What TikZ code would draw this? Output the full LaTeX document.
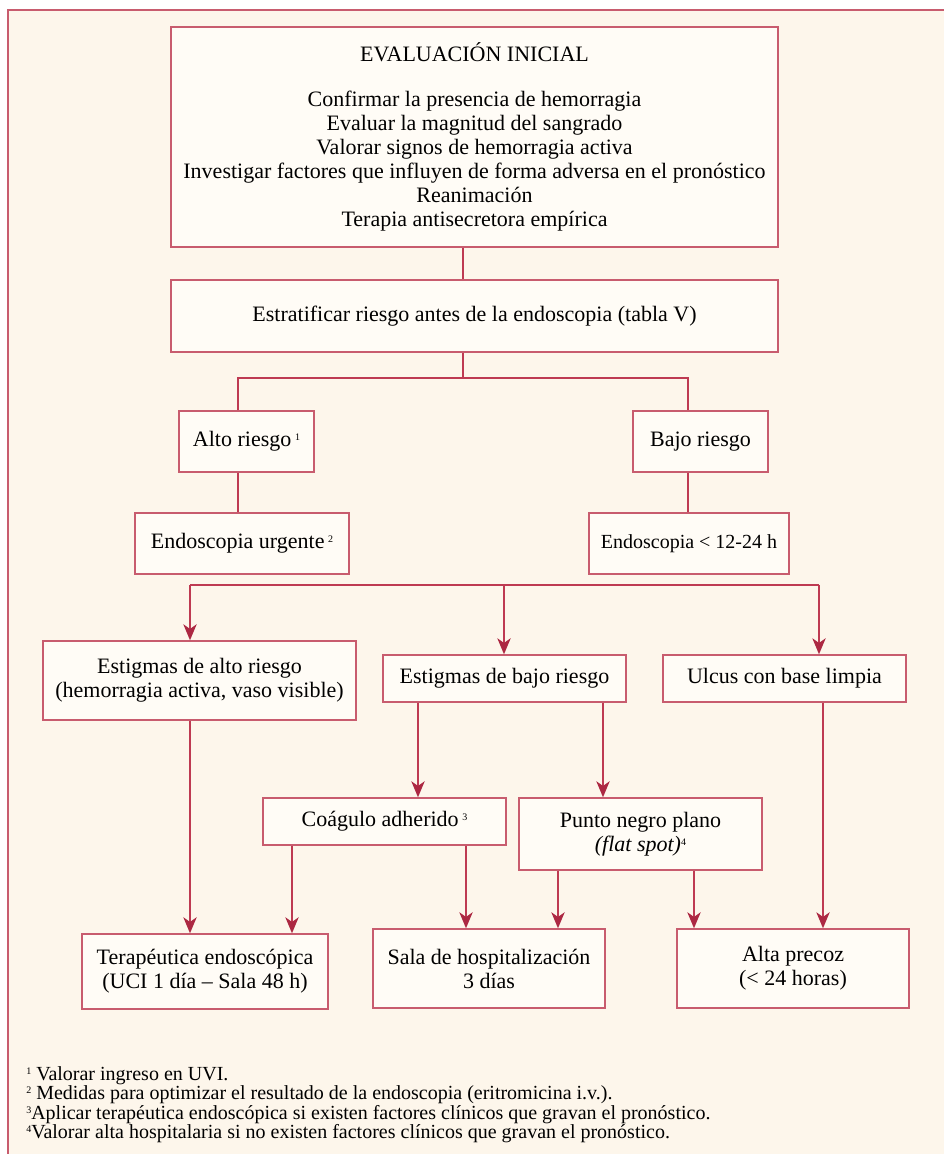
\documentclass[tikz,border=0pt]{standalone}
\usepackage{fontspec}
\setmainfont{Liberation Serif}
\usetikzlibrary{arrows.meta}
\definecolor{bgc}{RGB}{253,246,235}
\definecolor{boxfill}{RGB}{255,252,246}
\definecolor{edgec}{RGB}{200,92,110}
\definecolor{linec}{RGB}{190,58,82}
\definecolor{tipc}{RGB}{172,40,66}
\newcommand{\fnum}[1]{\raisebox{0.6ex}{\fontsize{7.5}{7.5}\selectfont #1}}
\tikzset{
  boxst/.style={draw=edgec, line width=1.1pt, fill=boxfill, inner sep=0pt, align=center, font=\fontsize{16.5}{18}\selectfont},
  link/.style={draw=linec, line width=1.1pt},
  arr/.style={link, -{Stealth[length=12pt,width=10pt,inset=3.5pt,color=tipc]}},
  fnote/.style={anchor=base west, inner sep=0pt, font=\fontsize{15}{16}\selectfont},
}
\newcommand{\mkbox}[6]{\node[boxst, minimum width={(#4-#2)*0.75pt}, minimum height={(#5-#3)*0.75pt}] (#1) at ({(#2+#4)/2},{(#3+#5)/2}) {#6};}
\begin{document}
\begin{tikzpicture}[x=0.75pt,y=-0.75pt]
\useasboundingbox (0,0) rectangle (944,1154);
\fill[white] (0,0) rectangle (944,1154);
\fill[bgc] (8,10) rectangle (944,1154);
\draw[edgec, line width=1.5pt] (8,1154) -- (8,10) -- (944,10);

\mkbox{eval}{171}{27}{778}{247}{EVALUACIÓN INICIAL\\[16pt]
Confirmar la presencia de hemorragia\\
Evaluar la magnitud del sangrado\\
Valorar signos de hemorragia activa\\
Investigar factores que influyen de forma adversa en el pronóstico\\
Reanimación\\
Terapia antisecretora empírica}
\mkbox{estr}{171}{280}{778}{352}{Estratificar riesgo antes de la endoscopia (tabla V)}
\mkbox{alto}{179}{411}{314}{472}{Alto riesgo\,\fnum{1}}
\mkbox{bajo}{633}{411}{768}{472}{Bajo riesgo}
\mkbox{urg}{135}{513}{349}{574}{Endoscopia urgente\,\fnum{2}}
\mkbox{e24}{589}{513}{789}{574}{\fontsize{15}{18}\selectfont Endoscopia < 12-24 h}
\mkbox{eal}{43}{641}{356}{720}{Estigmas de alto riesgo\\(hemorragia activa, vaso visible)}
\mkbox{eba}{383}{655}{626}{702}{Estigmas de bajo riesgo}
\mkbox{ulc}{663}{655}{906}{702}{Ulcus con base limpia}
\mkbox{coa}{263}{798}{506}{845}{Coágulo adherido\,\fnum{3}}
\mkbox{pun}{519}{798}{762}{870}{Punto negro plano\\\textit{(flat spot)}\fnum{4}}
\mkbox{ter}{82}{934}{328}{1009}{Terapéutica endoscópica\\(UCI 1 día – Sala 48 h)}
\mkbox{sala}{373}{929}{605}{1008}{Sala de hospitalización\\3 días}
\mkbox{alta}{677}{929}{909}{1008}{Alta precoz\\(< 24 horas)}

% upper connectors
\coordinate (busM) at (463,378);
\coordinate (busL) at (238,378);
\coordinate (busR) at (688,378);
\draw[link] (eval.south -| busM) -- (estr.north -| busM);
\draw[link] (estr.south -| busM) -- (busM);
\draw[link] (alto.north -| busL) |- (busR) -- (bajo.north -| busR);
\draw[link] (alto.south -| busL) -- (urg.north -| busL);
\draw[link] (bajo.south -| busR) -- (e24.north -| busR);

% second bus
\coordinate (bL) at (190,585);
\coordinate (bM) at (504,585);
\coordinate (bR) at (819,585);
\draw[link] (bL) -- (bR);
\draw[arr] (bL) -- (eal.north -| bL);
\draw[arr] (bM) -- (eba.north -| bM);
\draw[arr] (bR) -- (ulc.north -| bR);

% lower arrows
\coordinate (xa) at (190,0);
\coordinate (xb) at (418,0);
\coordinate (xc) at (603,0);
\coordinate (xd) at (292,0);
\coordinate (xe) at (466,0);
\coordinate (xf) at (558,0);
\coordinate (xg) at (694,0);
\coordinate (xh) at (823,0);
\draw[arr] (eal.south -| xa) -- (ter.north -| xa);
\draw[arr] (eba.south -| xb) -- (coa.north -| xb);
\draw[arr] (eba.south -| xc) -- (pun.north -| xc);
\draw[arr] (coa.south -| xd) -- (ter.north -| xd);
\draw[arr] (coa.south -| xe) -- (sala.north -| xe);
\draw[arr] (pun.south -| xf) -- (sala.north -| xf);
\draw[arr] (pun.south -| xg) -- (alta.north -| xg);
\draw[arr] (ulc.south -| xh) -- (alta.north -| xh);

% footnotes
\node[fnote] (fn1) at (26,1080) {\fnum{1}\ Valorar ingreso en UVI.};
\node[fnote] (fn2) at (26,1099) {\fnum{2}\ Medidas para optimizar el resultado de la endoscopia (eritromicina i.v.).};
\node[fnote] (fn3) at (26,1119) {\fnum{3}Aplicar terapéutica endoscópica si existen factores clínicos que gravan el pronóstico.};
\node[fnote] (fn4) at (26,1138) {\fnum{4}Valorar alta hospitalaria si no existen factores clínicos que gravan el pronóstico.};
\end{tikzpicture}
\end{document}
